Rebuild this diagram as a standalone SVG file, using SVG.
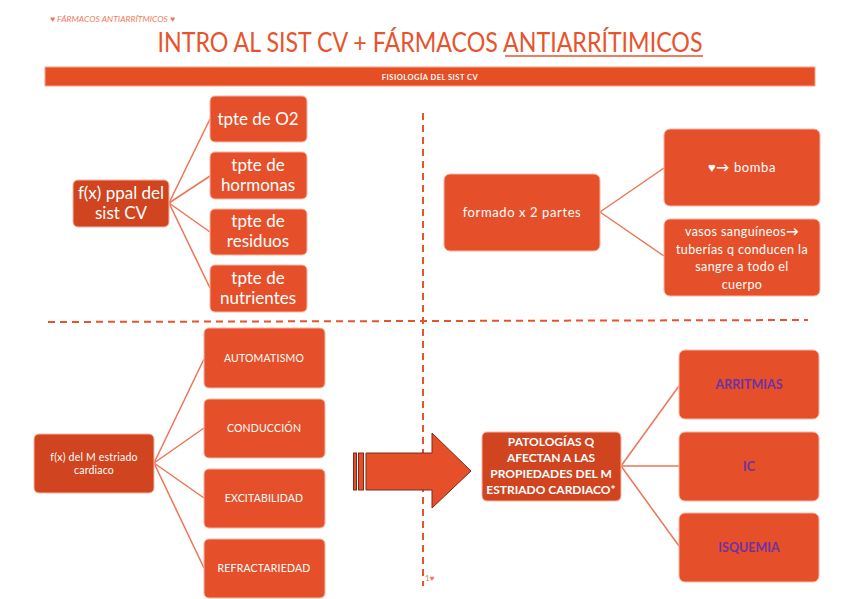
<svg xmlns="http://www.w3.org/2000/svg" width="848" height="599" viewBox="0 0 848 599">
<style>
.bg{fill:#ffffff}
.box{fill:#E5502A;stroke:#F6B7A3;stroke-width:1}
.root{fill:#D0441F;stroke:#F6B7A3;stroke-width:1}
.conn{stroke:#EE7455;stroke-width:1.5;fill:none}
.dash{stroke:#E8532C;stroke-width:2;stroke-dasharray:7,5;fill:none}
.t{font-family:Lato,"Open Sans","Liberation Sans",sans-serif;fill:#ffffff;text-anchor:middle}
.big{font-size:17px}
.mid{font-size:13px;letter-spacing:0.6px}
.sm{font-size:10.5px;letter-spacing:0.2px}
.bold{font-weight:bold}
.pur{fill:#7030A0;font-weight:bold;font-size:12.5px}
</style>
<rect class="bg" x="0" y="0" width="848" height="599"/>
<text x="50" y="22" font-family="Lato,'Open Sans',sans-serif" font-size="8.5" font-style="italic" fill="#F07A5A" textLength="125" lengthAdjust="spacing">♥ FÁRMACOS ANTIARRÍTMICOS ♥</text>
<text x="430" y="52" font-family="Lato,'Open Sans',sans-serif" font-size="26" fill="#E8532C" text-anchor="middle" textLength="545" lengthAdjust="spacingAndGlyphs">INTRO AL SIST CV + FÁRMACOS ANTIARRÍTIMICOS</text>
<line x1="505" y1="56" x2="703" y2="56" stroke="#E8532C" stroke-width="1.5"/>
<rect x="45" y="67" width="770" height="19" fill="#E64E24" stroke="#F3A58C" stroke-width="1"/>
<text x="430" y="80" font-family="Lato,'Open Sans',sans-serif" font-size="7.5" font-weight="bold" fill="#ffffff" text-anchor="middle" letter-spacing="0.5">FISIOLOGÍA DEL SIST CV</text>

<g id="dividers">
<line class="dash" x1="423" y1="113" x2="423" y2="586"/>
<line class="dash" x1="48" y1="322" x2="808" y2="320"/>
</g>

<g id="connectors">
<line class="conn" x1="169" y1="203" x2="210" y2="119"/>
<line class="conn" x1="169" y1="203" x2="210" y2="176"/>
<line class="conn" x1="169" y1="203" x2="210" y2="232"/>
<line class="conn" x1="169" y1="203" x2="210" y2="288"/>
<line class="conn" x1="600" y1="212" x2="664" y2="168"/>
<line class="conn" x1="600" y1="212" x2="664" y2="256"/>
<line class="conn" x1="154" y1="463" x2="204" y2="359"/>
<line class="conn" x1="154" y1="463" x2="204" y2="428"/>
<line class="conn" x1="154" y1="463" x2="204" y2="498"/>
<line class="conn" x1="154" y1="463" x2="204" y2="568"/>
<line class="conn" x1="621" y1="466" x2="679" y2="386"/>
<line class="conn" x1="621" y1="466" x2="679" y2="466"/>
<line class="conn" x1="621" y1="466" x2="679" y2="546"/>
</g>

<g id="n-fx-ppal"><rect class="root" x="73" y="180" width="96" height="47" rx="5"/>
<text class="t big" x="121" y="199">f(x) ppal del</text><text class="t big" x="121" y="219">sist CV</text></g>
<g id="n-o2"><rect class="box" x="210" y="96" width="97" height="46" rx="5"/>
<text class="t big" x="258" y="125">tpte de O2</text></g>
<g id="n-hormonas"><rect class="box" x="210" y="152" width="97" height="47" rx="5"/>
<text class="t big" x="258" y="171">tpte de</text><text class="t big" x="258" y="191">hormonas</text></g>
<g id="n-residuos"><rect class="box" x="210" y="209" width="97" height="46" rx="5"/>
<text class="t big" x="258" y="227">tpte de</text><text class="t big" x="258" y="247">residuos</text></g>
<g id="n-nutrientes"><rect class="box" x="210" y="265" width="97" height="47" rx="5"/>
<text class="t big" x="258" y="284">tpte de</text><text class="t big" x="258" y="304">nutrientes</text></g>

<g id="n-formado"><rect class="box" x="444" y="174" width="156" height="77" rx="6"/>
<text class="t mid" x="522" y="217">formado x 2 partes</text></g>
<g id="n-bomba"><rect class="box" x="664" y="129" width="156" height="77" rx="6"/>
<text class="t mid" x="742" y="172">♥<tspan font-weight="bold">→</tspan> bomba</text></g>
<g id="n-vasos"><rect class="box" x="664" y="219" width="156" height="77" rx="6"/>
<text class="t" font-size="12.5" letter-spacing="0.4" x="742" y="236">vasos sanguíneos<tspan font-weight="bold">→</tspan></text>
<text class="t" font-size="12.5" letter-spacing="0.4" x="742" y="254">tuberías q conducen la</text>
<text class="t" font-size="12.5" letter-spacing="0.4" x="742" y="271">sangre a todo el</text>
<text class="t" font-size="12.5" letter-spacing="0.4" x="742" y="289">cuerpo</text></g>

<g id="n-fx-m"><rect class="root" x="34" y="434" width="120" height="59" rx="5"/>
<text class="t sm" x="94" y="461">f(x) del M estriado</text><text class="t sm" x="94" y="474">cardiaco</text></g>
<g id="n-automatismo"><rect class="box" x="204" y="328" width="121" height="60" rx="5"/>
<text class="t sm" x="264" y="362">AUTOMATISMO</text></g>
<g id="n-conduccion"><rect class="box" x="204" y="399" width="121" height="59" rx="5"/>
<text class="t sm" x="264" y="432">CONDUCCIÓN</text></g>
<g id="n-excitabilidad"><rect class="box" x="204" y="469" width="121" height="59" rx="5"/>
<text class="t sm" x="264" y="502">EXCITABILIDAD</text></g>
<g id="n-refractariedad"><rect class="box" x="204" y="539" width="121" height="59" rx="5"/>
<text class="t sm" x="264" y="572">REFRACTARIEDAD</text></g>

<g id="n-arrow">
<rect x="353.5" y="453" width="3" height="37" fill="#E5502A" stroke="#7A2A18" stroke-width="1"/>
<rect x="358.5" y="453" width="5" height="37" fill="#E5502A" stroke="#7A2A18" stroke-width="1"/>
<path d="M366 453 H432 V433 L471 471 L432 508 V490 H366 Z" fill="#E5502A" stroke="#7A2A18" stroke-width="1"/>
</g>

<g id="n-patologias"><rect class="root" x="482" y="432" width="139" height="69" rx="5"/>
<text class="t bold" font-size="12" x="551" y="446">PATOLOGÍAS Q</text>
<text class="t bold" font-size="12" x="551" y="462">AFECTAN A LAS</text>
<text class="t bold" font-size="12" x="551" y="478">PROPIEDADES DEL M</text>
<text class="t bold" font-size="12" x="551" y="494">ESTRIADO CARDIACO*</text></g>
<g id="n-arritmias"><rect class="box" x="679" y="350" width="140" height="69" rx="6"/>
<text class="t pur" x="749" y="389">ARRITMIAS</text></g>
<g id="n-ic"><rect class="box" x="679" y="432" width="140" height="69" rx="6"/>
<text class="t pur" x="749" y="471">IC</text></g>
<g id="n-isquemia"><rect class="box" x="679" y="513" width="140" height="69" rx="6"/>
<text class="t pur" x="749" y="552">ISQUEMIA</text></g>

<text x="425" y="581" font-family="Lato,'Open Sans',sans-serif" font-size="8" fill="#F07A5A">1♥</text>
</svg>
